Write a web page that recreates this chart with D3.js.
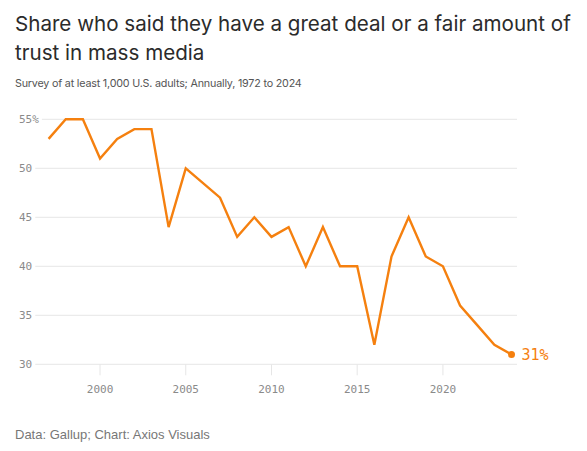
<!DOCTYPE html>
<html>
<head>
<meta charset="utf-8">
<script src="https://cdn.jsdelivr.net/npm/d3@7"></script>
<style>
  body { margin: 0; background: #fff; }
  svg { display: block; }
</style>
</head>
<body>
<svg id="chart" width="587" height="451"></svg>
<script>
// Gallup, trust in mass media (no survey in 2006)
var years = [1997, 1998, 1999, 2000, 2001, 2002, 2003, 2004, 2005, 2007, 2008, 2009, 2010,
  2011, 2012, 2013, 2014, 2015, 2016, 2017, 2018, 2019, 2020, 2021, 2022, 2023, 2024]
var trust = [53, 55, 55, 51, 53, 54, 54, 44, 50, 47, 43, 45, 43,
  44, 40, 44, 40, 40, 32, 41, 45, 41, 40, 36, 34, 32, 31]
var yTicks = [30, 35, 40, 45, 50, 55]
var xTicks = [2000, 2005, 2010, 2015, 2020]

var titleLines = ['Share who said they have a great deal or a fair amount of', 'trust in mass media']
var subtitle = 'Survey of at least 1,000 U.S. adults; Annually, 1972 to 2024'
var source = 'Data: Gallup; Chart: Axios Visuals'

var orange = '#f5800f'
var grid = '#e6e6e6'
var mono = '"DejaVu Sans Mono", "Liberation Mono", monospace'

var svg = d3.select('#chart')

var data = years.map(function (y, i) { return { year: y, value: trust[i] } })

var x = d3.scaleLinear().domain([1997, 2024]).range([48.6, 511.5])
var y = d3.scaleLinear().domain([30, 55]).range([364.3, 119.3])

// titles
var titles = svg.append('g').selectAll('text')
  .data(titleLines)
  .enter()
  .append('text')
  .attr('x', 15)
  .attr('y', function (d, i) { return 31 + i * 28.5 })
  .style('font-family', 'Inter, "Open Sans", sans-serif')
  .style('font-size', '20px')
  .style('fill', '#2b2b2b')
  .text(function (d) { return d })

// fit the first title line to the width it has in the original (~556px)
var w0 = titles.node().getComputedTextLength()
titles.style('font-size', (20 * 556 / w0) + 'px')

var sub = svg.append('text')
  .attr('x', 15)
  .attr('y', 87)
  .style('font-family', 'Inter, sans-serif')
  .style('font-size', '11px')
  .style('letter-spacing', '-0.2px')
  .style('fill', '#555')
  .text(subtitle)
var ws = sub.node().getComputedTextLength()
sub.style('font-size', (11 * 287 / ws) + 'px')

// y gridlines + labels
var yg = svg.append('g').selectAll('g')
  .data(yTicks)
  .enter()
  .append('g')
  .attr('transform', function (d) { return 'translate(0,' + y(d) + ')' })

yg.append('text')
  .attr('x', 19)
  .attr('dy', '0.35em')
  .style('font-family', mono)
  .style('font-size', '11px')
  .style('fill', '#8a8a8a')
  .text(function (d) { return d === 55 ? d + '%' : d })

yg.insert('line', 'text')
  .attr('x1', function () { return 19 + this.parentNode.querySelector('text').getComputedTextLength() + 3 })
  .attr('x2', 517)
  .attr('stroke', grid)
  .attr('stroke-width', 1)

// x ticks
var xg = svg.append('g').selectAll('g')
  .data(xTicks)
  .enter()
  .append('g')
  .attr('transform', function (d) { return 'translate(' + x(d) + ',0)' })

xg.append('line')
  .attr('y1', y(30))
  .attr('y2', y(30) + 11)
  .attr('stroke', grid)

xg.append('text')
  .attr('y', 392.5)
  .attr('text-anchor', 'middle')
  .style('font-family', mono)
  .style('font-size', '11px')
  .style('fill', '#8a8a8a')
  .text(function (d) { return d })

// line
var line = d3.line()
  .x(function (d) { return x(d.year) })
  .y(function (d) { return y(d.value) })

svg.append('path')
  .datum(data)
  .attr('d', line)
  .attr('fill', 'none')
  .attr('stroke', orange)
  .attr('stroke-width', 2.4)
  .attr('stroke-linejoin', 'miter')

var last = data[data.length - 1]
svg.append('circle')
  .attr('cx', x(last.year))
  .attr('cy', y(last.value))
  .attr('r', 3.5)
  .style('fill', orange)

svg.append('text')
  .attr('x', x(last.year) + 10)
  .attr('y', y(last.value))
  .attr('dy', '0.35em')
  .style('font-family', mono)
  .style('font-size', '15px')
  .style('fill', orange)
  .text(last.value + '%')

svg.append('text')
  .attr('x', 15)
  .attr('y', 438.5)
  .style('font-family', '"Liberation Sans", Arial, sans-serif')
  .style('font-size', '13px')
  .style('fill', '#777')
  .text(source)
</script>
</body>
</html>
